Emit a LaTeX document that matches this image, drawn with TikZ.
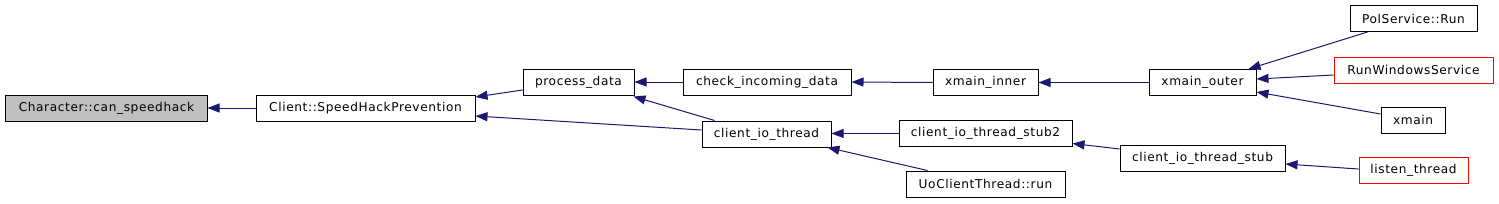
\documentclass[tikz,border=0pt]{standalone}
\usepackage{fontspec}
\newfontfamily\lblfont[LetterSpace=5]{DejaVu Sans}
\usetikzlibrary{arrows.meta}
\definecolor{edgeblue}{HTML}{191970}
\definecolor{boxgray}{HTML}{BFBFBF}
\tikzset{
  fn/.style={draw=black, line width=1bp, inner sep=0pt, font=\lblfont\fontsize{12.2}{14}\selectfont, text=black},
  fnred/.style={fn, draw=red},
  fncur/.style={fn, fill=boxgray},
  arr/.style={draw=edgeblue, line width=1bp, -{Triangle[length=12bp,width=9bp]}},
}
\begin{document}
\begin{tikzpicture}[x=1bp,y=-1bp]
\useasboundingbox (0,0) rectangle (1499,203);
\node[fncur, minimum width=201bp, minimum height=26bp] (chr) at (106.5,108) {Character::can\_speedhack};
\node[fn, minimum width=219bp, minimum height=26bp] (shp) at (365.5,108) {Client::SpeedHackPrevention};
\node[fn, minimum width=111bp, minimum height=26bp] (pd) at (578.5,82) {process\_data};
\node[fn, minimum width=168bp, minimum height=26bp] (cid) at (767,82) {check\_incoming\_data};
\node[fn, minimum width=129bp, minimum height=26bp] (cit) at (766.5,134) {client\_io\_thread};
\node[fn, minimum width=105bp, minimum height=26bp] (xi) at (985.5,82.5) {xmain\_inner};
\node[fn, minimum width=107bp, minimum height=26bp] (xo) at (1202.5,82.5) {xmain\_outer};
\node[fn, minimum width=173bp, minimum height=26bp] (st2) at (985.5,133.5) {client\_io\_thread\_stub2};
\node[fn, minimum width=159bp, minimum height=26bp] (uo) at (985.5,184) {UoClientThread::run};
\node[fn, minimum width=165bp, minimum height=26bp] (st) at (1202.5,158.5) {client\_io\_thread\_stub};
\node[fn, minimum width=127bp, minimum height=26bp] (pol) at (1413.5,18.5) {PolService::Run};
\node[fnred, minimum width=159bp, minimum height=26bp] (rws) at (1413.5,70) {RunWindowsService};
\node[fn, minimum width=64bp, minimum height=26bp] (xm) at (1413,120) {xmain};
\node[fnred, minimum width=109bp, minimum height=26bp] (lt) at (1413.5,170.5) {listen\_thread};
% edges (arrow at callee)
\draw[arr] (shp.west) -- (chr.east);
\draw[arr] ([yshift=-8bp]pd.west) -- ([yshift=11bp]shp.east);
\draw[arr] ([yshift=4bp]cit.west) -- ([yshift=-8bp]shp.east);
\draw[arr] (cid.west) -- (pd.east);
\draw[arr] ([xshift=-52bp]cit.north) -- ([xshift=-1bp,yshift=-1bp]pd.south east);
\draw[arr] (xi.west) -- (cid.east);
\draw[arr] (st2.west) -- (st2.west -| cit.east);
\draw[arr] ([xshift=-58bp]uo.north) -- ([xshift=-4bp]cit.south east);
\draw[arr] (xo.west) -- (xi.west -| xi.east);
\draw[arr] ([yshift=9.5bp]st.west) -- ([yshift=-10bp]st2.east);
\draw[arr] ([xshift=18bp]pol.south west) -- ([xshift=-8bp]xo.north east);
\draw[arr] ([yshift=-5bp]rws.west) -- ([yshift=3.5bp]xo.east);
\draw[arr] ([yshift=6bp]xm.west) -- ([yshift=-9.5bp]xo.east);
\draw[arr] ([yshift=1.5bp]lt.west) -- ([yshift=-5.5bp]st.east);
\end{tikzpicture}
\end{document}
